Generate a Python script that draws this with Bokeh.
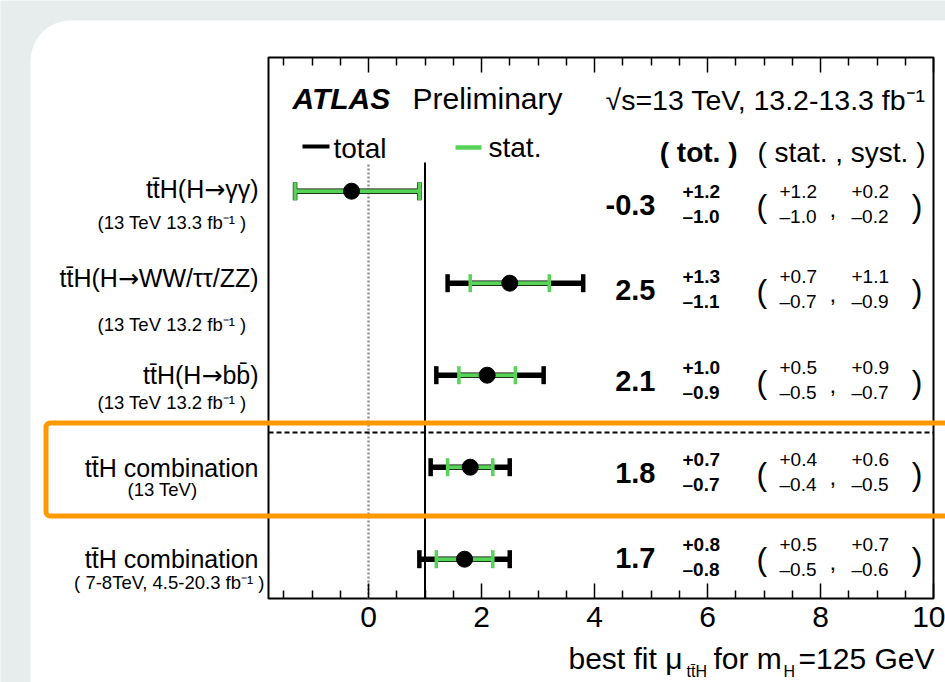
from bokeh.plotting import figure
from bokeh.models import Range1d, LinearAxis, FixedTicker, Label, BoxAnnotation, ColumnDataSource
from bokeh.embed import file_html
from bokeh.resources import INLINE

# ---- ttH signal-strength results ----------------------------------------
channels = ["tt\u0304H(H\u2192\u03b3\u03b3)", "tt\u0304H(H\u2192WW/\u03c4\u03c4/ZZ)",
            "tt\u0304H(H\u2192bb\u0304)", "tt\u0304H combination", "tt\u0304H combination"]
datasets = ["(13 TeV 13.3 fb\u207b\u00b9 )", "(13 TeV 13.2 fb\u207b\u00b9 )",
            "(13 TeV 13.2 fb\u207b\u00b9 )", "(13 TeV)", "( 7-8TeV, 4.5-20.3 fb\u207b\u00b9 )"]
mu = [-0.3, 2.5, 2.1, 1.8, 1.7]
tot_up = [1.2, 1.3, 1.0, 0.7, 0.8]
tot_dn = [1.0, 1.1, 0.9, 0.7, 0.8]
stat_up = [1.2, 0.7, 0.5, 0.4, 0.5]
stat_dn = [1.0, 0.7, 0.5, 0.4, 0.5]
syst_up = [0.2, 1.1, 0.9, 0.6, 0.7]
syst_dn = [0.2, 0.9, 0.7, 0.5, 0.6]
sm_mu = 1.0
major_ticks = [0, 2, 4, 6, 8, 10]
x_lo, x_hi = -1.77, 10.0

# ---- canvas geometry (pixels) --------------------------------------------
W, H = 945, 682
FL, FR, FT, FB = 268, 933, 57, 598          # edges of the plot box
ROW0, ROWH = 190.7, 92.0                    # first row centre and row pitch
BLACK, GREEN, ORANGE, PAGE = "black", "#57d357", "#ff9900", "#e6edec"
FONT = "Liberation Sans"
ARROW_FONT = "DejaVu Sans"
BASELINE_SHIFT = 0.34   # label anchor sits this many em above the drawn baseline

# advance widths (em) of Liberation Sans glyphs used in the channel names,
# and of the DejaVu arrow, for laying out the split labels
ADV = {"t": 0.278, "H": 0.722, "(": 0.333, ")": 0.333, "W": 0.944, "/": 0.278,
       "Z": 0.611, "b": 0.556, "\u03b3": 0.5, "\u03c4": 0.394, "\u0304": 0.0}
ARROW_ADV = 0.838


def em_width(s):
    return sum(ADV.get(c, 0.556) for c in s)


def xd(px):
    return x_lo + (px - FL) * (x_hi - x_lo) / (FR - FL)


def yd(py):
    return (py - ROW0) / ROWH


# the frame spans the whole canvas so that the row labels at the left can be drawn
p = figure(width=W, height=H, x_range=Range1d(xd(0), xd(W)), y_range=Range1d(yd(H), yd(0)),
           output_backend="svg", toolbar_location=None,
           x_axis_location=None, y_axis_location=None, min_border=0,
           background_fill_color=PAGE, border_fill_color=PAGE, outline_line_color=None)
p.grid.visible = False

# white card with a rounded top-left corner
p.add_layout(BoxAnnotation(left=xd(30), right=xd(W + 60), top=yd(20), bottom=yd(H + 60),
                           fill_color="white", fill_alpha=1, line_color=None,
                           border_radius=(40, 0, 0, 0), level="underlay"))

minor_ticks = [k * 0.5 for k in range(-3, 21) if k % 4 != 0]


def make_axis(loc):
    ax = LinearAxis(fixed_location=loc, bounds=(x_lo, x_hi))
    ax.ticker = FixedTicker(ticks=major_ticks, minor_ticks=minor_ticks)
    ax.axis_line_color = None
    ax.major_tick_in, ax.major_tick_out = 15, 0
    ax.minor_tick_in, ax.minor_tick_out = 8, 0
    ax.major_tick_line_width = 1.5
    ax.minor_tick_line_width = 1.5
    ax.major_tick_line_color = BLACK
    ax.minor_tick_line_color = BLACK
    return ax


bottom = make_axis(yd(FB))
bottom.major_label_text_font = FONT
bottom.major_label_text_font_size = "30px"
bottom.major_label_text_color = BLACK
bottom.major_label_standoff = 8
p.add_layout(bottom, "below")

top = make_axis(yd(FT))
top.major_label_overrides = {t: "" for t in major_ticks}
p.add_layout(top, "above")

# plot box
p.quad(left=[x_lo], right=[x_hi], top=[yd(FT)], bottom=[yd(FB)],
       fill_color=None, line_color=BLACK, line_width=2)

# ---- reference lines ------------------------------------------------------
p.segment(x0=[sm_mu], x1=[sm_mu], y0=[yd(162)], y1=[yd(FB)], line_color=BLACK, line_width=2)
p.segment(x0=[0], x1=[0], y0=[yd(164)], y1=[yd(FB)], line_color="#8c8c8c",
          line_width=2.4, line_dash="2 2")
p.segment(x0=[x_lo], x1=[x_hi], y0=[yd(432)], y1=[yd(432)], line_color=BLACK,
          line_width=2, line_dash="5 3")

# ---- error bars -----------------------------------------------------------
rows = list(range(len(mu)))
cap = 9.0 / ROWH
src = ColumnDataSource(dict(
    y=rows, mu=mu,
    tlo=[m - d for m, d in zip(mu, tot_dn)], thi=[m + u for m, u in zip(mu, tot_up)],
    slo=[m - d for m, d in zip(mu, stat_dn)], shi=[m + u for m, u in zip(mu, stat_up)],
    ya=[r - cap for r in rows], yb=[r + cap for r in rows],
))
p.segment(x0="tlo", x1="thi", y0="y", y1="y", line_color=BLACK, line_width=5.5, source=src)
p.segment(x0="tlo", x1="tlo", y0="ya", y1="yb", line_color=BLACK, line_width=4.5, source=src)
p.segment(x0="thi", x1="thi", y0="ya", y1="yb", line_color=BLACK, line_width=4.5, source=src)
p.segment(x0="slo", x1="shi", y0="y", y1="y", line_color=GREEN, line_width=4, source=src)
p.segment(x0="slo", x1="slo", y0="ya", y1="yb", line_color=GREEN, line_width=3.5, source=src)
p.segment(x0="shi", x1="shi", y0="ya", y1="yb", line_color=GREEN, line_width=3.5, source=src)
p.scatter(x="mu", y="y", size=16, color=BLACK, source=src)

# ---- legend ---------------------------------------------------------------
p.segment(x0=[xd(302)], x1=[xd(329)], y0=[yd(146)], y1=[yd(146)], line_color=BLACK, line_width=4)
p.segment(x0=[xd(455)], x1=[xd(481)], y0=[yd(147)], y1=[yd(147)], line_color=GREEN, line_width=4.5)


def put(text, px, py, size, align="left", style="normal", font=FONT):
    """Place a text whose baseline lies at canvas pixel (px, py)."""
    p.add_layout(Label(x=xd(px), y=yd(py - BASELINE_SHIFT * size), text=text, text_font=font,
                       text_font_size=f"{size}px", text_align=align,
                       text_baseline="alphabetic", text_font_style=style,
                       text_color=BLACK))


put("ATLAS", 292, 108, 30, style="bold italic")
put("Preliminary", 412, 108, 30)
put("\u221as=13 TeV, 13.2-13.3 fb\u207b\u00b9", 605, 109, 28.5)
put("total", 333, 158, 28)
put("stat.", 488, 157, 28)
put("( tot. )", 737, 162, 28, align="right", style="bold")
put("( stat. , syst. )", 925, 162, 28, align="right")

# ---- per-row labels and numbers -------------------------------------------
label_base = [197, 286, 383, 476, 567]
sub_base = [228, 330, 408, 495, 588]
sub_anchor = [(246, "right"), (246, "right"), (246, "right"), (162, "center"), (264, "right")]
value_base = [214, 299, 390, 482, 567]
LABEL_RIGHT, LABEL_SIZE = 258, 25

for i in rows:
    name = channels[i]
    if "\u2192" in name:
        # decay arrow drawn from DejaVu Sans, the rest of the name from Liberation Sans
        head, _, tail = name.partition("\u2192")
        total = (em_width(head) + ARROW_ADV + em_width(tail)) * LABEL_SIZE
        x0 = LABEL_RIGHT - total
        put(head, x0, label_base[i], LABEL_SIZE)
        xa = x0 + em_width(head) * LABEL_SIZE
        put("\u2192", xa, label_base[i], LABEL_SIZE, font=ARROW_FONT)
        put(tail, xa + ARROW_ADV * LABEL_SIZE, label_base[i], LABEL_SIZE)
    else:
        put(name, LABEL_RIGHT, label_base[i], LABEL_SIZE, align="right")
    sx, al = sub_anchor[i]
    put(datasets[i], sx, sub_base[i], 18.5, align=al)

    b = value_base[i]
    put(f"{mu[i]:.1f}", 655, b, 29, align="right", style="bold")
    put(f"+{tot_up[i]:.1f}", 682, b - 16.5, 19, style="bold")
    put(f"\u2013{tot_dn[i]:.1f}", 682, b + 8, 19, style="bold")
    put("(", 756, b + 2, 32)
    put(f"+{stat_up[i]:.1f}", 779, b - 16.5, 19)
    put(f"\u2013{stat_dn[i]:.1f}", 779, b + 8, 19)
    put(",", 829, b + 2, 24)
    put(f"+{syst_up[i]:.1f}", 851, b - 16.5, 19)
    put(f"\u2013{syst_dn[i]:.1f}", 851, b + 8, 19)
    put(")", 922, b + 2, 32, align="right")

# highlight around the 13 TeV combination
p.add_layout(BoxAnnotation(left=xd(45.5), right=xd(W + 60), top=yd(422.5), bottom=yd(515.5),
                           fill_alpha=0, line_color=ORANGE, line_alpha=1, line_width=5,
                           border_radius=4))

# ---- x-axis title ---------------------------------------------------------
put("best fit \u03bc", 568, 668, 30)
put("tt\u0304H", 686, 676, 16)
put("for m", 713, 668, 30)
put("H", 783, 676, 16)
put("=125 GeV", 798, 668, 30)

open("out.html", "w").write(file_html(p, INLINE))
